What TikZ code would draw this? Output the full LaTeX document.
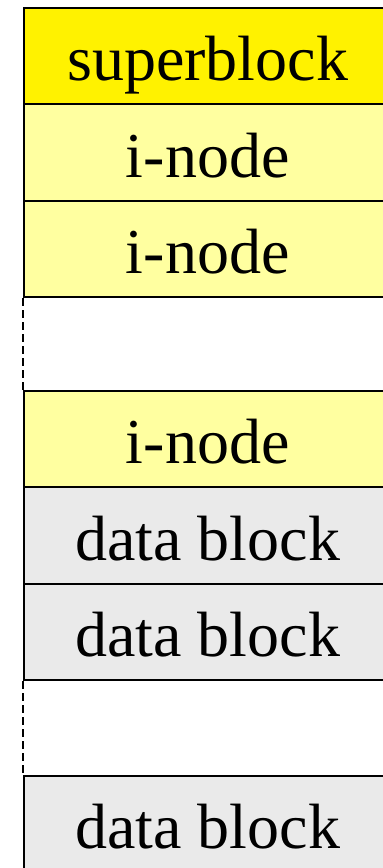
\documentclass[tikz,border=0pt]{standalone}
\usepackage{fontspec}
\setmainfont{Liberation Serif}
\begin{document}
\begin{tikzpicture}[x=1pt,y=1pt,
  cell/.style={draw=black,line width=1.8pt,minimum width=359.5pt,minimum height=96.5pt,inner sep=0pt,anchor=north west,font=\fontsize{64}{72}\selectfont,text height=50pt,text depth=0.5pt,execute at begin node={\hspace*{8pt}}},
  sb/.style={cell,fill=yellow},
  ino/.style={cell,fill={rgb,255:red,255;green,255;blue,160}},
  dat/.style={cell,fill={rgb,255:red,234;green,234;blue,234}},
  gapline/.style={line width=1.8pt,dash pattern=on 8pt off 4pt}]
\useasboundingbox (0,0) rectangle (383,868);
\begin{scope}
\clip (0,0) rectangle (383,868);
\node[sb]  (s)  at (23,861) {superblock};
\node[ino] (i1) at (23,764.5) {i-node};
\node[ino] (i2) at (23,668) {i-node};
\node[ino] (i3) at (23,478) {i-node};
\node[dat] (d1) at (23,381.5) {data block};
\node[dat] (d2) at (23,285) {data block};
\node[dat] (d3) at (23,93) {data block};
\draw[gapline] (i2.south west) -- (i3.north west);
\draw[gapline] (d2.south west) -- (d3.north west);
\end{scope}
\end{tikzpicture}
\end{document}
